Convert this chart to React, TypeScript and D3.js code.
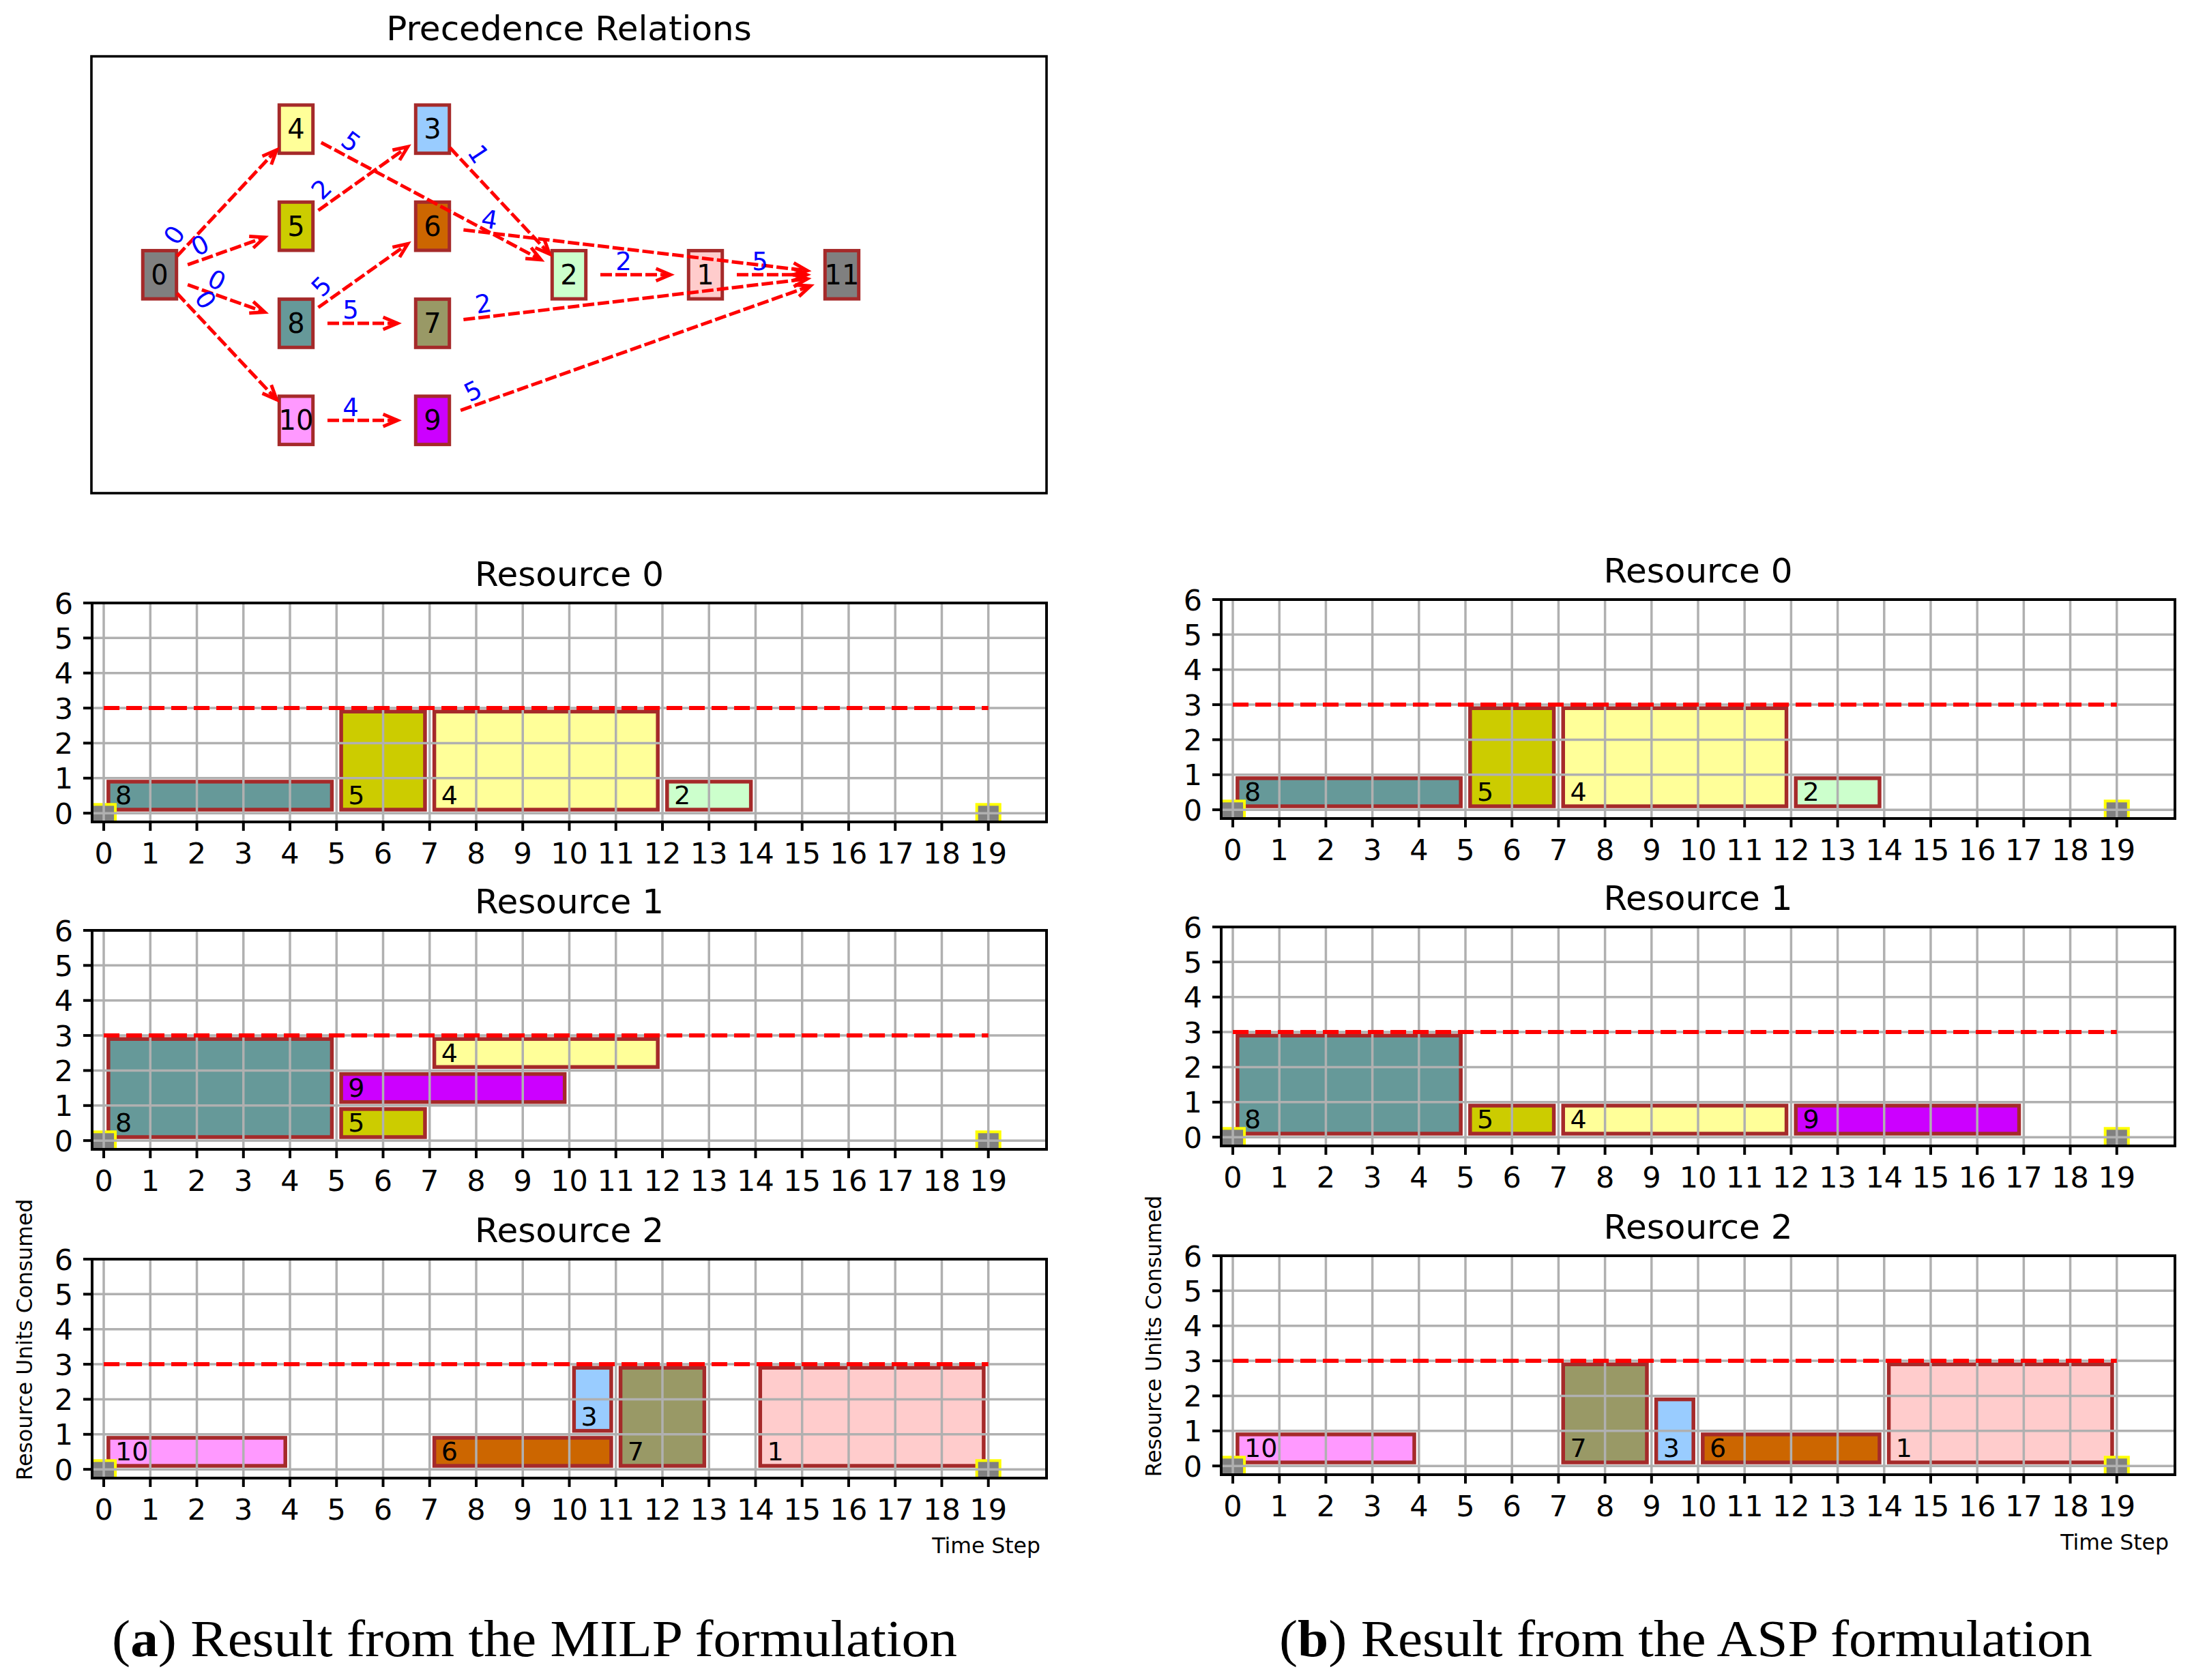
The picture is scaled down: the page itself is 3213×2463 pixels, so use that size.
import * as d3 from 'd3'

const W = 3213
const H = 2463
const FONT = "'DejaVu Sans', sans-serif"

// ---- precedence graph ----
const nodeIds = [0, 1, 2, 3, 4, 5, 6, 7, 8, 9, 10, 11]
const nodeCol = [0, 4, 3, 2, 1, 1, 2, 2, 1, 2, 1, 5]
const nodeRow = [0, 0, 0, 1.5, 1.5, 0.5, 0.5, -0.5, -0.5, -1.5, -1.5, 0]
const taskColors = [
  '#808080', '#ffcccc', '#ccffcc', '#99ccff', '#ffff99', '#cccc00',
  '#cc6600', '#999966', '#669999', '#cc00ff', '#ff99ff', '#808080',
]
// [from, to, lag]
const edges: [number, number, number][] = [
  [0, 4, 0], [0, 5, 0], [0, 8, 0], [0, 10, 0],
  [4, 2, 5], [5, 3, 2], [8, 6, 5], [8, 7, 5], [10, 9, 4],
  [3, 2, 1], [6, 11, 4], [7, 11, 2], [9, 11, 5],
  [2, 1, 2], [1, 11, 5],
]

// ---- schedules: [task, start, duration, stackBase, units] ----
const milpRes0: number[][] = [[8, 0, 5, 0, 1], [5, 5, 2, 0, 3], [4, 7, 5, 0, 3], [2, 12, 2, 0, 1]]
const milpRes1: number[][] = [[8, 0, 5, 0, 3], [5, 5, 2, 0, 1], [9, 5, 5, 1, 1], [4, 7, 5, 2, 1]]
const milpRes2: number[][] = [[10, 0, 4, 0, 1], [6, 7, 4, 0, 1], [3, 10, 1, 1, 2], [7, 11, 2, 0, 3], [1, 14, 5, 0, 3]]
const aspRes0: number[][] = [[8, 0, 5, 0, 1], [5, 5, 2, 0, 3], [4, 7, 5, 0, 3], [2, 12, 2, 0, 1]]
const aspRes1: number[][] = [[8, 0, 5, 0, 3], [5, 5, 2, 0, 1], [4, 7, 5, 0, 1], [9, 12, 5, 0, 1]]
const aspRes2: number[][] = [[10, 0, 4, 0, 1], [7, 7, 2, 0, 3], [3, 9, 1, 0, 2], [6, 10, 4, 0, 1], [1, 14, 5, 0, 3]]
const dummyStarts = [0, 19] // source / sink nodes
const capacity = 3
const xTicks = d3.range(0, 20)
const yTicks = d3.range(0, 7)

interface PanelProps {
  id: string
  title: string
  bars: number[][]
  left: number
  right: number
  top: number
  height: number
  xLabel?: boolean
}

function GanttPanel({ id, title, bars, left, right, top, height, xLabel }: PanelProps) {
  const bottom = top + height
  const x = d3.scaleLinear().domain([-0.25, 20.25]).range([left, right])
  const y = d3.scaleLinear().domain([-0.25, 6]).range([bottom, top])
  return (
    <g>
      <defs>
        <clipPath id={id}>
          <rect x={left} y={top} width={right - left} height={height} />
        </clipPath>
      </defs>
      <text x={(left + right) / 2} y={top - 25} textAnchor="middle" fontSize={50}>{title}</text>
      <g clipPath={`url(#${id})`}>
        {bars.map(([task, start, dur, base, use], i) => (
          <rect key={i}
            x={x(start + 0.1)} y={y(base + use - 0.1)}
            width={x(start + dur - 0.1) - x(start + 0.1)}
            height={y(base + 0.1) - y(base + use - 0.1)}
            fill={taskColors[task]} stroke="#a52a2a" strokeWidth={5.5} />
        ))}
        {dummyStarts.map((t, i) => (
          <rect key={i} x={x(t - 0.25)} y={y(0.25)} width={x(t + 0.25) - x(t - 0.25)}
            height={y(-0.25) - y(0.25)} fill="#808080" stroke="#ffff00" strokeWidth={4} />
        ))}
        {xTicks.map((t) => (
          <line key={'gx' + t} x1={x(t)} x2={x(t)} y1={top} y2={bottom} stroke="#b0b0b0" strokeWidth={3.5} />
        ))}
        {yTicks.map((t) => (
          <line key={'gy' + t} x1={left} x2={right} y1={y(t)} y2={y(t)} stroke="#b0b0b0" strokeWidth={3.5} />
        ))}
        <line x1={x(0)} x2={x(19)} y1={y(capacity)} y2={y(capacity)} stroke="#ff0000" strokeWidth={6} strokeDasharray="23 10" />
        {bars.map(([task, start, , base], i) => (
          <text key={'l' + i} x={x(start + 0.25)} y={y(base + 0.25)} fontSize={38}>{task}</text>
        ))}
      </g>
      <rect x={left} y={top} width={right - left} height={height} fill="none" stroke="#000" strokeWidth={4} />
      {xTicks.map((t) => (
        <g key={'tx' + t}>
          <line x1={x(t)} x2={x(t)} y1={bottom} y2={bottom + 13} stroke="#000" strokeWidth={4} />
          <text x={x(t)} y={bottom + 61} textAnchor="middle" fontSize={43}>{t}</text>
        </g>
      ))}
      {yTicks.map((t) => (
        <g key={'ty' + t}>
          <line x1={left - 13} x2={left} y1={y(t)} y2={y(t)} stroke="#000" strokeWidth={4} />
          <text x={left - 28} y={y(t) + 15.5} textAnchor="end" fontSize={43}>{t}</text>
        </g>
      ))}
      {xLabel && (
        <text x={right - 9} y={bottom + 110} textAnchor="end" fontSize={31.5}>Time Step</text>
      )}
    </g>
  )
}

function PrecedenceGraph() {
  const left = 134, right = 1534, top = 82.6, bottom = 723
  const gx = d3.scaleLinear().domain([-0.5, 6.5]).range([left, right])
  const gy = d3.scaleLinear().domain([-2.25, 2.25]).range([bottom, top])
  const nw = 49.4, nh = 70.7

  return (
    <g>
      <text x={(left + right) / 2} y={59} textAnchor="middle" fontSize={50}>Precedence Relations</text>
      <rect x={left} y={top} width={right - left} height={bottom - top} fill="none" stroke="#000" strokeWidth={3.6} />
      {nodeIds.map((n) => (
        <g key={n}>
          <rect x={gx(nodeCol[n]) - nw / 2} y={gy(nodeRow[n]) - nh / 2} width={nw} height={nh}
            fill={taskColors[n]} stroke="#a52a2a" strokeWidth={5} />
          <text x={gx(nodeCol[n])} y={gy(nodeRow[n]) + 14} textAnchor="middle" fontSize={40}>{n}</text>
        </g>
      ))}
      {edges.map(([a, b, lag], i) => {
        const dx = nodeCol[b] - nodeCol[a]
        const dy = nodeRow[b] - nodeRow[a]
        const len = Math.hypot(dx, dy)
        const ux = dx / len, uy = dy / len
        const sx = gx(nodeCol[a] + 0.23 * ux), sy = gy(nodeRow[a] + 0.23 * uy)
        const ex = gx(nodeCol[b] - 0.257 * ux), ey = gy(nodeRow[b] - 0.257 * uy)
        const sl = Math.hypot(ex - sx, ey - sy)
        const vx = (ex - sx) / sl, vy = (ey - sy) / sl
        const hx1 = ex - 21 * vx + 9 * vy, hy1 = ey - 21 * vy - 9 * vx
        const hx2 = ex - 21 * vx - 9 * vy, hy2 = ey - 21 * vy + 9 * vx
        const lx = gx(nodeCol[a] + 0.4 * ux - 0.135 * uy)
        const ly = gy(nodeRow[a] + 0.4 * uy + 0.135 * ux)
        const ang = (Math.atan2(dy, dx) * 180) / Math.PI
        return (
          <g key={i}>
            <line x1={sx} y1={sy} x2={ex} y2={ey} stroke="#ff0000" strokeWidth={5} strokeDasharray="17 5" />
            <polyline points={`${hx1},${hy1} ${ex},${ey} ${hx2},${hy2}`} fill="none" stroke="#ff0000" strokeWidth={5} />
            <text x={lx} y={ly} transform={`rotate(${-ang},${lx},${ly})`} textAnchor="middle"
              dominantBaseline="central" fontSize={37} fill="#0000ff">{lag}</text>
          </g>
        )
      })}
    </g>
  )
}

export default function App() {
  const leftCol = { left: 135, right: 1534 }
  const rightCol = { left: 1790, right: 3188 }
  const leftTops = [884, 1364, 1846]
  const rightTops = [879, 1359, 1841]
  const milp = [milpRes0, milpRes1, milpRes2]
  const asp = [aspRes0, aspRes1, aspRes2]

  return (
    <svg width={W} height={H} viewBox={`0 0 ${W} ${H}`}
      style={{ position: 'absolute', left: 0, top: 0, background: '#fff' }}
      fontFamily={FONT}>
      <rect width={W} height={H} fill="#fff" />
      <PrecedenceGraph />
      {milp.map((bars, i) => (
        <GanttPanel key={'m' + i} id={'clipm' + i} title={`Resource ${i}`} bars={bars}
          left={leftCol.left} right={leftCol.right} top={leftTops[i]} height={321} xLabel={i === 2} />
      ))}
      {asp.map((bars, i) => (
        <GanttPanel key={'a' + i} id={'clipa' + i} title={`Resource ${i}`} bars={bars}
          left={rightCol.left} right={rightCol.right} top={rightTops[i]} height={321} xLabel={i === 2} />
      ))}
      <text transform="translate(47,1964) rotate(-90)" textAnchor="middle" fontSize={31.5}>Resource Units Consumed</text>
      <text transform="translate(1702,1959) rotate(-90)" textAnchor="middle" fontSize={31.5}>Resource Units Consumed</text>
      <g fontFamily="'Liberation Serif', serif" fontSize={77}>
        <text x={783.5} y={2428} textAnchor="middle" textLength={1239} lengthAdjust="spacingAndGlyphs">
          (<tspan fontWeight="bold">a</tspan>) Result from the MILP formulation
        </text>
        <text x={2471} y={2428} textAnchor="middle" textLength={1192} lengthAdjust="spacingAndGlyphs">
          (<tspan fontWeight="bold">b</tspan>) Result from the ASP formulation
        </text>
      </g>
    </svg>
  )
}
